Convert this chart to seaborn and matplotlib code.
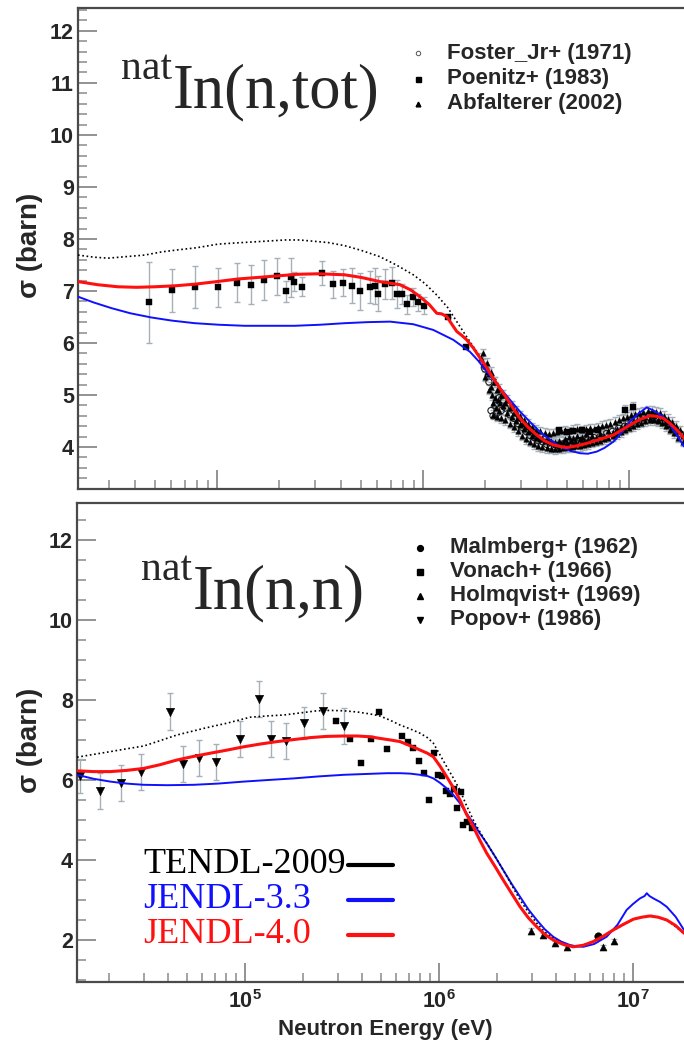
import numpy as np
import matplotlib
matplotlib.use("Agg")
import matplotlib.pyplot as plt
from matplotlib.ticker import FixedLocator, MultipleLocator, NullFormatter, FixedFormatter, LogLocator
from matplotlib.lines import Line2D
import seaborn as sns

sns.set_style("ticks")
plt.rcParams["font.family"] = ["Liberation Sans", "DejaVu Sans"]
plt.rcParams["font.weight"] = "bold"
plt.rcParams["mathtext.fontset"] = "custom"
plt.rcParams["mathtext.bf"] = "Liberation Sans:bold"
plt.rcParams["mathtext.rm"] = "Liberation Sans:bold"

# ---------------- natIn(n,tot) : evaluations (log10 E[eV], sigma [b]) ----------------
tot_tendl_lg = [4.325, 4.40, 4.47, 4.56, 4.649, 4.73, 4.81, 4.90, 5.005, 5.08, 5.165, 5.25, 5.33, 5.40,
                5.456, 5.54, 5.62, 5.70, 5.79, 5.87, 5.953, 6.01, 6.067, 6.12, 6.164, 6.21, 6.261, 6.30,
                6.341, 6.39, 6.438, 6.49, 6.535, 6.59, 6.649, 6.70, 6.75, 6.80, 6.85, 6.92, 7.00, 7.06,
                7.10, 7.14, 7.18, 7.22, 7.267]
tot_tendl_xs = [7.69, 7.65, 7.63, 7.66, 7.69, 7.75, 7.79, 7.83, 7.90, 7.92, 7.94, 7.96, 7.98, 7.98,
                7.96, 7.93, 7.87, 7.78, 7.66, 7.50, 7.31, 7.14, 6.92, 6.68, 6.41, 6.13, 5.83, 5.60,
                5.38, 5.03, 4.68, 4.46, 4.29, 4.10, 3.97, 3.93, 3.96, 4.03, 4.10, 4.20, 4.40, 4.53,
                4.59, 4.58, 4.50, 4.37, 4.17]

tot_j40_lg = [4.325, 4.42, 4.519, 4.61, 4.698, 4.80, 4.892, 5.00, 5.102, 5.20, 5.296, 5.39, 5.49, 5.56,
              5.62, 5.70, 5.79, 5.888, 5.94, 5.985, 6.03, 6.067, 6.09, 6.115, 6.14, 6.164, 6.19, 6.212,
              6.245, 6.277, 6.31, 6.341, 6.373, 6.406, 6.438, 6.471, 6.51, 6.552, 6.59, 6.633, 6.665,
              6.698, 6.745, 6.795, 6.86, 6.924, 6.97, 7.021, 7.06, 7.102, 7.135, 7.167, 7.20, 7.232, 7.267]
tot_j40_xs = [7.18, 7.12, 7.08, 7.07, 7.08, 7.10, 7.13, 7.18, 7.23, 7.26, 7.29, 7.32, 7.33, 7.32,
              7.31, 7.26, 7.18, 7.12, 7.02, 6.89, 6.74, 6.57, 6.56, 6.51, 6.36, 6.22, 6.14, 6.06,
              5.90, 5.71, 5.52, 5.32, 5.13, 4.94, 4.74, 4.55, 4.38, 4.23, 4.12, 4.04, 4.01,
              3.99, 4.02, 4.07, 4.15, 4.23, 4.34, 4.46, 4.54, 4.60, 4.59, 4.55, 4.45, 4.33, 4.17]

tot_j33_lg = [4.325, 4.40, 4.487, 4.58, 4.681, 4.78, 4.892, 5.01, 5.134, 5.25, 5.377, 5.50, 5.62, 5.73,
              5.84, 5.953, 6.05, 6.147, 6.228, 6.27, 6.309, 6.35, 6.39, 6.43, 6.471, 6.52, 6.568, 6.62,
              6.665, 6.71, 6.762, 6.80, 6.843, 6.88, 6.924, 6.965, 7.005, 7.045, 7.086, 7.12, 7.167,
              7.20, 7.232, 7.267]
tot_j33_xs = [6.89, 6.78, 6.67, 6.57, 6.49, 6.43, 6.38, 6.35, 6.33, 6.33, 6.33, 6.35, 6.38, 6.40,
              6.41, 6.36, 6.25, 6.06, 5.83, 5.65, 5.45, 5.25, 5.06, 4.87, 4.68, 4.48, 4.29, 4.13,
              4.01, 3.93, 3.88, 3.87, 3.91, 3.98, 4.10, 4.28, 4.49, 4.64, 4.76, 4.70, 4.58,
              4.42, 4.23, 4.01]

# ---------------- natIn(n,tot) : measurements ----------------
poenitz_lg = [4.668, 4.782, 4.892, 5.005, 5.096, 5.164, 5.227, 5.293, 5.335, 5.358, 5.374, 5.414,
              5.508, 5.563, 5.612, 5.655, 5.696, 5.743, 5.765, 5.782, 5.814, 5.848, 5.872, 5.897,
              5.924, 5.950, 5.977, 6.005, 6.123, 6.209, 6.66, 6.70, 6.73, 6.77, 6.81, 6.85, 6.98, 7.02]
poenitz_xs = [6.78, 7.01, 7.08, 7.07, 7.16, 7.12, 7.21, 7.28, 6.99, 7.26, 7.18, 7.08,
              7.34, 7.13, 7.16, 7.10, 6.99, 7.07, 7.10, 6.95, 7.13, 7.15, 6.94, 6.94,
              6.74, 6.88, 6.78, 6.72, 6.49, 5.93, 4.32, 4.28, 4.31, 4.33, 4.28, 4.32, 4.71, 4.76]
poenitz_err = [0.78, 0.42, 0.40, 0.38, 0.37, 0.37, 0.38, 0.36, 0.21, 0.37, 0.18, 0.18,
               0.23, 0.26, 0.26, 0.34, 0.36, 0.31, 0.35, 0.33, 0.29, 0.31, 0.27, 0.20,
               0.18, 0.17, 0.17, 0.17, 0.0, 0.0, 0.0, 0.0, 0.0, 0.0, 0.0, 0.0, 0.10, 0.10]

foster_lg = [6.30, 6.32, 6.33, 6.34, 6.35, 6.36, 6.37, 6.38, 6.39, 6.40, 6.42, 6.44, 6.46, 6.48,
             6.50, 6.52, 6.54, 6.56, 6.58, 6.60, 6.62, 6.64, 6.66, 6.68, 6.70, 6.72, 6.74, 6.76,
             6.78, 6.80, 6.83, 6.86, 6.89, 6.92, 6.95, 6.98, 7.01, 7.04, 7.07, 7.10, 7.13, 7.16,
             7.19, 7.22, 7.25]
foster_xs = [5.50, 5.25, 4.70, 4.60, 4.80, 4.65, 4.95, 4.70, 4.90, 4.75, 4.62, 4.55, 4.45, 4.38,
             4.30, 4.22, 4.18, 4.12, 4.10, 4.05, 4.02, 4.00, 4.03, 4.06, 4.10, 4.05, 4.08, 4.12,
             4.10, 4.14, 4.18, 4.20, 4.26, 4.30, 4.36, 4.40, 4.48, 4.55, 4.58, 4.62, 4.56, 4.50,
             4.45, 4.35, 4.25]

abf_lg = [6.28, 6.29, 6.30, 6.31, 6.32, 6.33, 6.335, 6.34, 6.345, 6.35, 6.355, 6.36, 6.365, 6.37,
          6.375, 6.38, 6.39, 6.40, 6.41, 6.42, 6.43, 6.44, 6.45, 6.46, 6.47, 6.48, 6.49, 6.50,
          6.51, 6.52, 6.53, 6.54, 6.55, 6.56, 6.57, 6.58, 6.59, 6.60, 6.61, 6.62, 6.63, 6.64,
          6.65, 6.66, 6.67, 6.68, 6.69, 6.70, 6.71, 6.72, 6.73, 6.74, 6.75, 6.76, 6.77, 6.78,
          6.79, 6.80, 6.82, 6.84, 6.86, 6.88, 6.90, 6.92, 6.94, 6.96, 6.98, 7.00, 7.02, 7.04,
          7.06, 7.08, 7.10, 7.12, 7.14, 7.16, 7.18, 7.20, 7.22, 7.24, 7.26,
          # lower side of the band
          6.30, 6.32, 6.34, 6.36, 6.38, 6.40, 6.42, 6.44, 6.46, 6.48, 6.50, 6.52, 6.54, 6.56,
          6.58, 6.60, 6.62, 6.64, 6.66, 6.68, 6.70, 6.72, 6.74, 6.76, 6.78, 6.80, 6.82, 6.84,
          6.86, 6.88, 6.90, 6.92, 6.94, 6.96, 6.98, 7.00, 7.02, 7.04, 7.06, 7.08, 7.10, 7.12,
          7.14, 7.16, 7.18, 7.20, 7.22, 7.24, 7.26,
          # upper side of the band
          6.29, 6.31, 6.33, 6.35, 6.37, 6.39, 6.41, 6.43, 6.45, 6.47, 6.49, 6.51, 6.53, 6.55,
          6.57, 6.59, 6.61, 6.63, 6.65, 6.67, 6.69, 6.71, 6.73, 6.75, 6.77, 6.79, 6.81, 6.83,
          6.85, 6.87, 6.89, 6.91, 6.93, 6.95, 6.97, 6.99, 7.01, 7.03, 7.05, 7.07, 7.09, 7.11,
          7.13, 7.15, 7.17, 7.19, 7.21, 7.23, 7.25]
abf_xs = [5.72, 5.60, 5.55, 5.45, 5.40, 5.15, 5.00, 4.85, 5.25, 4.95, 4.75, 5.10, 4.90, 4.70,
          4.85, 5.00, 4.78, 4.85, 4.65, 4.75, 4.58, 4.65, 4.50, 4.55, 4.42, 4.45, 4.35, 4.38,
          4.28, 4.30, 4.22, 4.25, 4.18, 4.20, 4.15, 4.18, 4.12, 4.15, 4.10, 4.12, 4.08, 4.10,
          4.06, 4.12, 4.05, 4.10, 4.15, 4.08, 4.20, 4.12, 4.18, 4.10, 4.22, 4.15, 4.20, 4.12,
          4.25, 4.15, 4.22, 4.18, 4.25, 4.22, 4.30, 4.28, 4.35, 4.38, 4.42, 4.45, 4.50, 4.52,
          4.55, 4.58, 4.55, 4.60, 4.52, 4.55, 4.48, 4.42, 4.38, 4.30, 4.22,
          5.35, 5.10, 4.62, 4.58, 4.55, 4.52, 4.45, 4.38, 4.30, 4.22, 4.15, 4.10, 4.06, 4.02,
          4.00, 3.98, 3.97, 3.96, 3.97, 3.98, 3.99, 4.00, 4.01, 4.02, 4.04, 4.06, 4.08, 4.10,
          4.12, 4.15, 4.18, 4.21, 4.25, 4.29, 4.33, 4.37, 4.40, 4.44, 4.47, 4.50, 4.51, 4.52,
          4.50, 4.46, 4.40, 4.33, 4.26, 4.18, 4.10,
          5.80, 5.62, 5.45, 5.25, 5.12, 5.00, 4.90, 4.80, 4.70, 4.60, 4.52, 4.45, 4.38, 4.33,
          4.30, 4.27, 4.25, 4.26, 4.28, 4.30, 4.32, 4.30, 4.33, 4.35, 4.32, 4.34, 4.36, 4.35,
          4.38, 4.40, 4.42, 4.45, 4.48, 4.52, 4.55, 4.58, 4.62, 4.64, 4.66, 4.68, 4.70, 4.70,
          4.68, 4.65, 4.60, 4.54, 4.48, 4.40, 4.32]
ABF_ERR = 0.09

# ---------------- natIn(n,n) : evaluations ----------------
el_tendl_lg = [4.134, 4.22, 4.306, 4.39, 4.478, 4.56, 4.649, 4.72, 4.787, 4.85, 4.907, 4.97, 5.027,
               5.11, 5.20, 5.29, 5.371, 5.44, 5.509, 5.58, 5.646, 5.696, 5.75, 5.799, 5.85, 5.902,
               5.94, 5.971, 6.005, 6.04, 6.075, 6.108, 6.14, 6.177, 6.21, 6.246, 6.29, 6.331, 6.375,
               6.418, 6.46, 6.504, 6.545, 6.589, 6.63, 6.675, 6.72, 6.795, 6.898, 7.002, 7.088,
               7.174, 7.263]
el_tendl_xs = [6.57, 6.64, 6.71, 6.78, 6.85, 6.98, 7.125, 7.21, 7.29, 7.36, 7.42, 7.50, 7.57,
               7.60, 7.625, 7.68, 7.73, 7.74, 7.73, 7.70, 7.65, 7.60, 7.49, 7.375, 7.28, 7.17,
               7.06, 6.92, 6.63, 6.33, 6.04, 5.75, 5.38, 5.00, 4.71, 4.42, 4.08, 3.75, 3.37,
               3.00, 2.70, 2.42, 2.20, 2.04, 1.92, 1.84, 1.84, 1.95, 2.24, 2.52, 2.62,
               2.50, 2.17]

el_j40_lg = [4.134, 4.22, 4.306, 4.39, 4.478, 4.56, 4.649, 4.735, 4.821, 4.91, 4.993, 5.08, 5.165,
             5.25, 5.337, 5.42, 5.509, 5.58, 5.646, 5.696, 5.75, 5.799, 5.85, 5.902, 5.94, 5.971,
             6.005, 6.04, 6.075, 6.108, 6.14, 6.177, 6.21, 6.246, 6.29, 6.331, 6.375, 6.418, 6.46,
             6.504, 6.545, 6.589, 6.64, 6.692, 6.745, 6.795, 6.845, 6.898, 6.95, 7.002, 7.045,
             7.088, 7.13, 7.174, 7.22, 7.263]
el_j40_xs = [6.23, 6.21, 6.21, 6.24, 6.29, 6.38, 6.50, 6.59, 6.67, 6.75, 6.83, 6.90, 6.96,
             7.01, 7.06, 7.09, 7.10, 7.10, 7.08, 7.04, 7.00, 6.96, 6.86, 6.75, 6.67, 6.58,
             6.35, 6.08, 5.80, 5.50, 5.16, 4.83, 4.50, 4.17, 3.83, 3.50, 3.16, 2.83, 2.56,
             2.33, 2.14, 2.00, 1.89, 1.83, 1.87, 1.96, 2.09, 2.25, 2.39, 2.52, 2.57,
             2.60, 2.57, 2.50, 2.36, 2.17]

el_j33_lg = [4.134, 4.22, 4.306, 4.39, 4.478, 4.60, 4.736, 4.86, 4.993, 5.12, 5.251, 5.38, 5.509,
             5.62, 5.732, 5.799, 5.85, 5.902, 5.94, 5.971, 6.005, 6.04, 6.075, 6.108, 6.14, 6.177,
             6.21, 6.246, 6.29, 6.331, 6.375, 6.418, 6.46, 6.504, 6.545, 6.589, 6.63, 6.675, 6.71,
             6.744, 6.80, 6.864, 6.92, 6.967, 7.00, 7.036, 7.06, 7.071, 7.085, 7.105, 7.14, 7.174,
             7.22, 7.263]
el_j33_xs = [6.13, 6.03, 5.96, 5.91, 5.88, 5.87, 5.88, 5.91, 5.96, 6.00, 6.04, 6.09, 6.13,
             6.15, 6.17, 6.17, 6.16, 6.13, 6.10, 6.04, 5.93, 5.79, 5.62, 5.42, 5.18, 4.92,
             4.67, 4.42, 4.08, 3.75, 3.40, 3.08, 2.77, 2.50, 2.27, 2.08, 1.96, 1.875, 1.84,
             1.83, 1.90, 2.08, 2.38, 2.75, 2.90, 3.04, 3.10, 3.17, 3.10, 3.04, 2.95, 2.83,
             2.58, 2.25]

# ---------------- natIn(n,n) : measurements ----------------
popov_lg = [4.151, 4.251, 4.361, 4.466, 4.612, 4.680, 4.763, 4.852, 4.976, 5.071, 5.136, 5.210,
            5.302, 5.400, 5.509]
popov_xs = [6.10, 5.73, 5.92, 6.20, 7.71, 6.39, 6.54, 6.44, 7.02, 8.02, 7.02, 6.98, 7.43, 7.73, 7.35]
popov_err = [0.42, 0.45, 0.45, 0.45, 0.46, 0.45, 0.45, 0.45, 0.45, 0.45, 0.45, 0.45, 0.40, 0.45, 0.45]

vonach_lg = [5.471, 5.543, 5.598, 5.649, 5.692, 5.731, 5.808, 5.842, 5.868, 5.899, 5.923, 5.950,
             5.974, 5.996, 6.018, 6.036, 6.057, 6.077, 6.094, 6.112, 6.125, 6.146, 6.168]
vonach_xs = [7.48, 7.02, 6.43, 7.02, 7.71, 6.77, 7.11, 6.96, 6.79, 6.48, 6.18, 5.50,
             6.68, 6.13, 6.10, 5.73, 5.65, 5.77, 5.29, 5.71, 4.88, 4.96, 4.79]

holm_lg = [6.473, 6.538, 6.598, 6.658, 6.843, 6.904]
holm_xs = [2.23, 2.125, 1.93, 1.82, 1.82, 1.98]
holm_err = [0.08, 0.05, 0.04, 0.04, 0.05, 0.05]

malm_lg = [6.821]
malm_xs = [2.10]

EVAL_LABELS = ["TENDL-2009", "JENDL-3.3", "JENDL-4.0"]
EVAL_COLORS = ["black", "#1010ff", "#ff1010"]
TOT_EXP_LABELS = ["Foster_Jr+ (1971)", "Poenitz+ (1983)", "Abfalterer (2002)"]
EL_EXP_LABELS = ["Malmberg+ (1962)", "Vonach+ (1966)", "Holmqvist+ (1969)", "Popov+ (1986)"]

W, H = 684, 1049
fig = plt.figure(figsize=(W / 100, H / 100), dpi=100)
fig.patch.set_facecolor("white")


def fx(px):
    return px / W


def fy(py):
    return 1 - py / H


def energy(lg):
    return np.power(10.0, np.asarray(lg, dtype=float))


ERR_COLOR = "#a6b0b8"
SPINE_COLOR = "#4a4a4a"
TICK_COLOR = "#8a8a8a"


def style_axes(ax, lg_lo, lg_hi, ylo, yhi, ymaj, ymin, show_xlabels):
    ax.set_xscale("log")
    ax.set_xlim(10 ** lg_lo, 10 ** lg_hi)
    ax.set_ylim(ylo, yhi)
    ax.set_facecolor("white")
    for side in ["left", "top", "bottom"]:
        ax.spines[side].set_color(SPINE_COLOR)
        ax.spines[side].set_linewidth(1.6)
    ax.spines["right"].set_visible(False)
    ax.xaxis.set_major_locator(FixedLocator([1e5, 1e6, 1e7]))
    ax.xaxis.set_minor_locator(LogLocator(base=10, subs=np.arange(2, 10), numticks=20))
    ax.xaxis.set_minor_formatter(NullFormatter())
    if show_xlabels:
        ax.xaxis.set_major_formatter(FixedFormatter([r"$\mathbf{10}^{\mathbf{5}}$",
                                                     r"$\mathbf{10}^{\mathbf{6}}$",
                                                     r"$\mathbf{10}^{\mathbf{7}}$"]))
    else:
        ax.xaxis.set_major_formatter(NullFormatter())
    ax.yaxis.set_major_locator(MultipleLocator(ymaj))
    ax.yaxis.set_minor_locator(MultipleLocator(ymin))
    ax.tick_params(axis="both", which="major", direction="in", length=13.5, width=1.3,
                   color=TICK_COLOR, top=False, right=False)
    ax.tick_params(axis="both", which="minor", direction="in", length=6.5, width=1.1,
                   color=TICK_COLOR, top=False, right=False)
    ax.tick_params(axis="y", which="major", labelsize=15.5, pad=3)
    ax.tick_params(axis="x", which="major", labelsize=15.5, pad=6)
    ax.set_xlabel("")
    ax.set_ylabel("")


def curve(ax, lg, xs, color, lw, ls="-", z=4):
    sns.lineplot(x=energy(lg), y=np.asarray(xs), ax=ax, color=color, linewidth=lw,
                 linestyle=ls, estimator=None, sort=False, legend=False, zorder=z)


def points(ax, lg, xs, marker, size, z=3):
    sns.scatterplot(x=energy(lg), y=np.asarray(xs), ax=ax, marker=marker, s=size,
                    color="black", edgecolor="black", linewidth=0.3, legend=False, zorder=z)


def errbars(ax, lg, xs, err):
    ax.errorbar(energy(lg), xs, yerr=err, fmt="none", ecolor=ERR_COLOR, elinewidth=1.0,
                capsize=2.5, capthick=1.0, zorder=2)


# ======================= upper panel: total cross section =======================
ax1 = fig.add_axes([fx(78), fy(489), fx(684) - fx(78), fy(8) - fy(489)])
ax1.set_xscale("log")

errbars(ax1, abf_lg, abf_xs, ABF_ERR)
ax1.scatter(energy(foster_lg), foster_xs, marker="o", s=20, facecolors="none",
            edgecolors="#202020", linewidths=0.8, zorder=3)
points(ax1, abf_lg, abf_xs, "^", 16)
errbars(ax1, poenitz_lg, poenitz_xs, poenitz_err)
points(ax1, poenitz_lg, poenitz_xs, "s", 20)

curve(ax1, tot_j33_lg, tot_j33_xs, EVAL_COLORS[1], 1.4)
curve(ax1, tot_tendl_lg, tot_tendl_xs, EVAL_COLORS[0], 1.2, ls=(0, (1, 1.6)))
curve(ax1, tot_j40_lg, tot_j40_xs, EVAL_COLORS[2], 2.2, z=5)

style_axes(ax1, 4.3252, 7.267, 3.192, 12.44, 1, 0.2, False)

# ======================= lower panel: elastic cross section =======================
ax2 = fig.add_axes([fx(77), fy(982), fx(684) - fx(77), fy(503) - fy(982)])
ax2.set_xscale("log")

errbars(ax2, popov_lg, popov_xs, popov_err)
points(ax2, popov_lg, popov_xs, "v", 38)
points(ax2, vonach_lg, vonach_xs, "s", 24)
errbars(ax2, holm_lg, holm_xs, holm_err)
points(ax2, holm_lg, holm_xs, "^", 26)
points(ax2, malm_lg, malm_xs, "o", 30)

curve(ax2, el_j33_lg, el_j33_xs, EVAL_COLORS[1], 1.4)
curve(ax2, el_tendl_lg, el_tendl_xs, EVAL_COLORS[0], 1.2, ls=(0, (1, 1.6)))
curve(ax2, el_j40_lg, el_j40_xs, EVAL_COLORS[2], 2.2, z=5)

style_axes(ax2, 4.134, 7.263, 0.95, 12.925, 2, 0.5, True)

# ---------------- reaction titles ----------------
serif = "Liberation Serif"
fig.text(fx(173), fy(107), "In(n,tot)", family=serif, fontweight="normal", fontsize=45,
         ha="left", va="baseline")
fig.text(fx(172), fy(79), "nat", family=serif, fontweight="normal", fontsize=30,
         ha="right", va="baseline")
fig.text(fx(193), fy(608), "In(n,n)", family=serif, fontweight="normal", fontsize=45,
         ha="left", va="baseline")
fig.text(fx(192), fy(580), "nat", family=serif, fontweight="normal", fontsize=30,
         ha="right", va="baseline")

# ---------------- axis titles ----------------
fig.text(fx(30), fy(245), "σ (barn)", rotation=90, fontsize=20, fontweight="bold",
         ha="center", va="center")
fig.text(fx(30), fy(740), "σ (barn)", rotation=90, fontsize=20, fontweight="bold",
         ha="center", va="center")
fig.text(fx(385), fy(1030), "Neutron Energy (eV)", fontsize=16, fontweight="bold",
         ha="center", va="center")

# ---------------- experiment legends ----------------
tot_markers = [dict(marker="o", ms=3.2, mfc="none", mec="#555555", mew=0.7),
               dict(marker="s", ms=3.6, mfc="black", mec="black"),
               dict(marker="^", ms=3.4, mfc="black", mec="black")]
for i, (lab, mk) in enumerate(zip(TOT_EXP_LABELS, tot_markers)):
    yy = 53 + i * 25.5
    fig.add_artist(Line2D([fx(418)], [fy(yy)], ls="none", transform=fig.transFigure, **mk))
    fig.text(fx(447), fy(yy), lab, fontsize=16, fontweight="bold", ha="left", va="center")

el_markers = [dict(marker="o", ms=4.2, mfc="black", mec="black"),
              dict(marker="s", ms=3.8, mfc="black", mec="black"),
              dict(marker="^", ms=3.8, mfc="black", mec="black"),
              dict(marker="v", ms=3.8, mfc="black", mec="black")]
for i, (lab, mk) in enumerate(zip(EL_EXP_LABELS, el_markers)):
    yy = 548 + i * 24
    fig.add_artist(Line2D([fx(420)], [fy(yy)], ls="none", transform=fig.transFigure, **mk))
    fig.text(fx(450), fy(yy), lab, fontsize=16, fontweight="bold", ha="left", va="center")

# ---------------- evaluation legend ----------------
for i, (lab, col) in enumerate(zip(EVAL_LABELS, EVAL_COLORS)):
    base = 873 + i * 35
    fig.text(fx(143), fy(base), lab, family=serif, fontweight="normal", fontsize=26,
             color=col, ha="left", va="baseline")
    fig.add_artist(Line2D([fx(348), fx(393)], [fy(base - 8), fy(base - 8)], color=col,
                          linewidth=3.0, transform=fig.transFigure))

fig.savefig("out.png", dpi=100, facecolor="white")
